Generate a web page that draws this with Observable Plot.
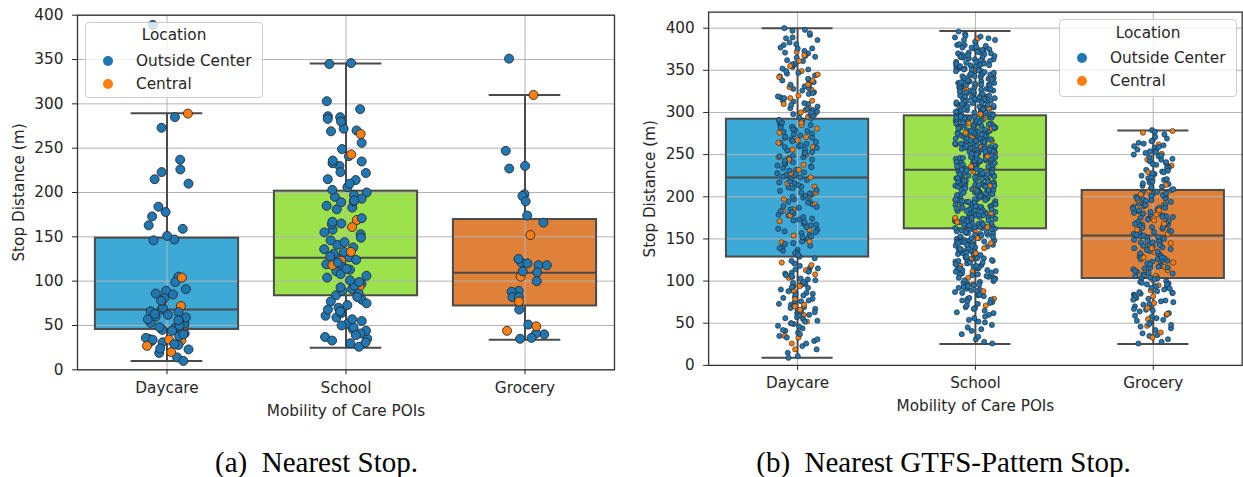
<!DOCTYPE html>
<html>
<head>
<meta charset="utf-8">
<script src="https://cdn.jsdelivr.net/npm/d3@7"></script>
<script src="https://cdn.jsdelivr.net/npm/@observablehq/plot@0.6"></script>
<style>
html, body { margin: 0; padding: 0; background: #fff; width: 1243px; height: 477px; overflow: hidden; }
#wrap { position: relative; width: 1243px; height: 477px; overflow: hidden; }
.panel { position: absolute; top: 0; }
.panel svg { overflow: visible; }
.legend { position: absolute; box-sizing: border-box; background: rgba(255,255,255,0.8); border: 1px solid #cccccc; border-radius: 4px; font-family: "DejaVu Sans", sans-serif; font-size: 15.3px; color: #262626; }
.legend .lt { position: absolute; left: 0; right: 0; text-align: center; line-height: 18px; }
.legend .mk { position: absolute; width: 10px; height: 10px; border-radius: 50%; }
.legend .li { position: absolute; line-height: 18px; white-space: nowrap; }
.caption { position: absolute; top: 446px; transform: translateX(-50%); font-family: "Liberation Serif", "Times New Roman", serif; font-size: 29px; line-height: 32px; color: #000; white-space: pre; }
</style>
</head>
<body>
<div id="wrap">
  <div id="pa" class="panel" style="left:0px"></div>
  <div id="pb" class="panel" style="left:630px"></div>
  <div id="lega" class="legend" style="left:85px;top:22px;width:178px;height:76px"></div>
  <div id="legb" class="legend" style="left:1059px;top:19px;width:178px;height:78px"></div>
  <div id="capa" class="caption" style="left:316.5px"></div>
  <div id="capb" class="caption" style="left:943.5px"></div>
</div>
<script>
// ---------- categories, labels, ticks ----------
const cats = ["Daycare", "School", "Grocery"];
const catIdx = [0, 1, 2];
const locations = ["Outside Center", "Central"];
const yTicks = [0, 50, 100, 150, 200, 250, 300, 350, 400];
const xLabel = "Mobility of Care POIs";
const yLabel = "Stop Distance (m)";
const legendTitle = "Location";
const captionA = "(a)  Nearest Stop.";
const captionB = "(b)  Nearest GTFS-Pattern Stop.";

// ---------- panel (a): box summaries ----------
const aWhiskerLo = [10, 25, 34];
const aQ1 = [45.5, 83.5, 72];
const aMedian = [68, 126.5, 109.5];
const aQ3 = [148.5, 201.5, 169.5];
const aWhiskerHi = [289.5, 345.5, 310];

// ---------- panel (a): points ----------
const aDaycareOut = [389, 285, 273, 237, 226, 223, 215, 210, 184, 178, 173, 163, 159, 151, 147, 146, 105, 99, 91, 89, 86, 85, 81, 78, 70, 68, 66, 65, 63, 62, 60, 59, 57, 56, 55, 53, 52, 50, 48, 47, 46, 45, 44, 41, 40, 38, 36, 35, 34, 32, 31, 29, 28, 24, 23, 19, 14, 10];
const aDaycareCen = [289, 104, 78, 72, 50, 34, 33, 27, 20];
const aSchoolOut = [346, 345, 303, 294, 286, 285, 283, 280, 272, 270, 269, 256, 249, 241, 236, 235, 233, 230, 223, 222, 215, 214, 210, 206, 203, 200, 197, 195, 193, 191, 190, 189, 185, 183, 181, 171, 167, 165, 164, 158, 155, 153, 149, 146, 144, 141, 138, 136, 133, 131, 128, 127, 125, 124, 121, 119, 116, 114, 113, 111, 108, 106, 104, 101, 99, 97, 95, 93, 91, 89, 86, 84, 82, 79, 77, 75, 73, 70, 68, 66, 64, 61, 59, 57, 55, 52, 50, 48, 46, 44, 41, 39, 37, 35, 33, 31, 30, 26];
const aSchoolCen = [266, 243, 169, 161, 133, 123, 118, 94];
const aGroceryOut = [351, 247, 230, 227, 198, 196, 190, 174, 166, 125, 121, 120, 118, 118, 111, 110, 100, 89, 88, 82, 82, 68, 51, 41, 40, 36, 35];
const aGroceryCen = [310, 152, 105, 77, 49, 44];

// ---------- panel (b): box summaries ----------
const bWhiskerLo = [9, 25.5, 25.5];
const bQ1 = [128.5, 162, 103];
const bMedian = [223, 232, 154];
const bQ3 = [292, 296, 207.5];
const bWhiskerHi = [400, 396.5, 278.5];

// ---------- panel (b): points ----------
const bDaycareOut = [400, 398, 397, 394, 392, 389, 388, 386, 383, 381, 380, 377, 376, 376, 373, 371, 370, 367, 366, 365, 362, 361, 358, 357, 357, 354, 352, 351, 349, 347, 346, 344, 343, 340, 339, 338, 336, 333, 333, 331, 329, 328, 326, 324, 323, 322, 319, 318, 317, 314, 313, 311, 310, 309, 307, 305, 304, 303, 301, 300, 298, 297, 296, 294, 293, 291, 290, 290, 288, 287, 285, 284, 283, 282, 280, 279, 278, 277, 275, 274, 273, 271, 270, 270, 268, 266, 265, 264, 263, 261, 260, 259, 258, 256, 255, 253, 252, 251, 249, 248, 247, 246, 244, 243, 241, 240, 239, 237, 236, 235, 234, 232, 231, 229, 228, 227, 226, 224, 223, 221, 220, 218, 217, 216, 214, 212, 211, 210, 208, 207, 205, 204, 203, 201, 200, 199, 197, 195, 194, 193, 191, 189, 188, 187, 185, 183, 182, 180, 179, 178, 176, 174, 173, 172, 170, 168, 167, 166, 164, 162, 161, 159, 158, 157, 155, 153, 152, 150, 149, 147, 145, 144, 142, 141, 139, 137, 136, 134, 133, 131, 129, 127, 124, 121, 118, 116, 115, 114, 112, 111, 110, 109, 107, 106, 105, 103, 102, 101, 99, 98, 97, 96, 94, 93, 92, 90, 89, 88, 86, 85, 84, 83, 81, 80, 79, 77, 76, 75, 73, 72, 71, 69, 68, 67, 66, 64, 63, 62, 60, 59, 57, 56, 55, 53, 52, 50, 49, 47, 46, 44, 42, 41, 39, 37, 35, 33, 31, 29, 26, 23, 19, 15, 11, 9];
const bDaycareCen = [372, 368, 361, 355, 349, 345, 342, 338, 333, 330, 327, 320, 317, 314, 310, 306, 303, 300, 298, 295, 291, 288, 285, 281, 276, 271, 267, 264, 259, 256, 250, 247, 244, 238, 232, 228, 223, 216, 212, 205, 202, 197, 191, 185, 183, 178, 171, 165, 161, 154, 147, 146, 122, 119, 113, 108, 104, 96, 94, 88, 79, 72, 70, 66, 60, 52, 50, 35, 33, 26, 19];
const bSchoolOut = [396, 393, 391, 390,
 389, 388, 386, 386, 384, 383, 381, 380, 380,
 379, 378, 377, 377, 376, 375, 374, 374, 373, 372, 371, 371, 370, 370,
 369, 369, 368, 367, 367, 366, 365, 365, 364, 363, 363, 362, 361, 360, 360, 366,
 359, 358, 358, 357, 356, 356, 355, 355, 354, 353, 352, 352, 351, 351, 350, 357, 354,
 349, 349, 348, 347, 346, 346, 345, 345, 344, 343, 343, 342, 341, 341, 340, 347, 344,
 339, 339, 338, 337, 337, 336, 335, 335, 334, 334, 333, 332, 332, 331, 330, 330, 336, 333,
 329, 328, 328, 327, 327, 326, 326, 325, 324, 324, 323, 323, 322, 321, 321, 320, 320, 325, 328,
 319, 319, 318, 317, 317, 316, 316, 315, 315, 314, 313, 313, 312, 312, 311, 310, 310, 318, 314, 316,
 309, 309, 308, 308, 307, 306, 306, 305, 305, 304, 304, 303, 302, 302, 301, 301, 300, 300, 307, 303, 305,
 299, 299, 298, 298, 297, 297, 296, 296, 295, 295, 294, 294, 293, 293, 292, 292, 291, 291, 290, 290, 298, 296, 294,
 289, 289, 288, 288, 287, 287, 286, 286, 285, 285, 284, 284, 283, 283, 282, 282, 281, 281, 280, 280, 288, 286, 284, 282,
 279, 279, 278, 278, 277, 277, 276, 276, 275, 275, 274, 274, 273, 273, 272, 272, 271, 271, 270, 270, 278, 276, 273, 271,
 269, 269, 268, 268, 267, 266, 266, 265, 265, 264, 264, 263, 263, 262, 262, 261, 261, 260, 260, 268, 267, 265, 263, 261,
 259, 259, 258, 258, 257, 257, 256, 255, 255, 254, 254, 253, 253, 252, 252, 251, 250, 250, 258, 256, 254, 252, 251, 257,
 249, 249, 248, 247, 247, 246, 246, 245, 245, 245, 244, 243, 243, 242, 242, 241, 241, 240, 240, 248, 246, 244, 243, 241,
 239, 239, 238, 238, 237, 236, 236, 236, 235, 234, 234, 233, 233, 232, 232, 231, 231, 230, 230, 238, 235, 237, 233, 232,
 229, 228, 228, 227, 227, 226, 226, 225, 225, 224, 224, 224, 223, 222, 222, 221, 221, 220, 220, 229, 227, 225, 223,
 219, 219, 218, 217, 217, 216, 216, 215, 215, 214, 214, 213, 213, 212, 212, 211, 211, 210, 210, 218, 216, 214, 213,
 209, 209, 208, 208, 207, 207, 206, 205, 205, 204, 204, 203, 203, 202, 201, 201, 200, 200, 208, 206, 203, 207,
 199, 199, 198, 197, 197, 196, 196, 195, 195, 194, 193, 193, 192, 192, 191, 190, 190, 198, 196, 194, 191, 197,
 189, 189, 188, 187, 187, 186, 185, 185, 184, 184, 183, 182, 182, 181, 180, 180, 188, 186, 183, 181, 187,
 179, 178, 178, 177, 176, 176, 175, 175, 174, 173, 173, 172, 171, 171, 170, 178, 176, 174, 172, 170,
 169, 169, 168, 167, 166, 166, 165, 164, 164, 163, 162, 162, 161, 160, 168, 165, 163, 161, 167,
 159, 158, 158, 157, 156, 155, 155, 154, 153, 152, 152, 151, 150, 158, 156, 154, 151, 157,
 149, 148, 147, 147, 146, 145, 144, 143, 143, 142, 141, 140, 148, 145, 142, 146,
 139, 138, 137, 136, 136, 135, 134, 133, 132, 131, 130, 138, 135, 132, 137,
 129, 128, 127, 126, 125, 124, 124, 123, 122, 121, 120, 127, 125, 122,
 119, 118, 117, 116, 115, 114, 113, 112, 111, 110, 118, 115, 113,
 109, 108, 107, 105, 104, 103, 102, 101, 100, 106, 104, 108,
 99, 98, 96, 95, 94, 93, 91, 90, 97, 92,
 89, 87, 86, 85, 83, 82, 80, 88, 84,
 79, 77, 76, 74, 73, 71, 78, 75,
 68, 67, 65, 63, 62, 60, 69,
 58, 56, 54, 52, 51,
 48, 45, 43, 41,
 37, 34, 31,
 28, 26];
const bSchoolCen = [388, 374, 359, 351, 342, 333, 327, 318, 310, 305, 298, 292, 287, 281, 276, 270, 266, 259, 252, 248, 241, 236, 230, 224, 219, 213, 208, 201, 196, 190, 186, 181, 175, 170, 164, 158, 151, 145, 139, 133, 126, 118, 111, 104, 96, 88, 79, 71];
const bGroceryOut = [279, 277, 274, 271,
 269, 267, 266, 264, 263, 261, 260,
 259, 258, 256, 255, 254, 253, 252, 250,
 249, 248, 247, 245, 244, 242, 241, 240,
 239, 238, 236, 235, 234, 232, 231, 230,
 229, 228, 227, 226, 225, 223, 222, 221, 220,
 219, 218, 217, 216, 215, 213, 212, 211, 210,
 209, 208, 207, 206, 205, 204, 202, 201, 200, 203,
 199, 198, 197, 196, 195, 194, 193, 192, 191, 190, 198,
 189, 188, 187, 186, 185, 183, 182, 181, 180, 187, 184,
 179, 178, 177, 176, 175, 174, 173, 171, 170, 176,
 169, 168, 167, 166, 165, 164, 163, 162, 160, 167, 164,
 159, 158, 157, 156, 155, 154, 153, 152, 151, 150, 157, 154,
 149, 148, 147, 146, 144, 143, 142, 141, 140, 146, 143,
 139, 138, 137, 136, 135, 133, 132, 131, 130, 136,
 129, 128, 127, 126, 125, 124, 123, 121, 120, 126,
 119, 118, 117, 116, 115, 114, 112, 111, 110, 116,
 109, 108, 107, 105, 104, 103, 102, 100, 106, 103,
 99, 98, 97, 96, 94, 93, 92, 91, 90, 96,
 88, 87, 86, 85, 84, 83, 81, 80, 86,
 79, 78, 77, 76, 75, 73, 72, 70,
 69, 67, 66, 65, 64, 62, 60,
 59, 58, 56, 54, 53, 51,
 49, 48, 46, 44, 42,
 38, 36, 35, 31,
 28, 26];
const bGroceryCen = [278, 276, 262, 251, 244, 237, 229, 221, 214, 207, 203, 196, 190, 184, 179, 172, 168, 161, 156, 149, 145, 139, 134, 128, 122, 117, 113, 106, 101, 95, 89, 82, 74, 68, 61, 55, 47, 39, 33];

// ---------- colours ----------
const boxColors = ["#3ca9d7", "#9ce24c", "#e08139"];
const pointColors = {"Outside Center": "#1f77b4", "Central": "#ff7f0e"};
const edgeColor = "#4b4b4b";
const gridColor = "#b3b3b3";
const textColor = "#262626";

// ---------- helpers ----------
// deterministic, evenly spread jitter in [0, 1) from the point index
function hash01(k) {
  let h = Math.imul((k + 1) ^ 0x9e3779b9, 2654435761) >>> 0;
  h = (h ^ (h >>> 15)) >>> 0; h = Math.imul(h, 2246822519) >>> 0;
  h = (h ^ (h >>> 13)) >>> 0; h = Math.imul(h, 3266489917) >>> 0;
  h = (h ^ (h >>> 16)) >>> 0;
  return h / 4294967296;
}
function buildStats(lo, q1, med, q3, hi) {
  return catIdx.map(i => ({i, lo: lo[i], q1: q1[i], med: med[i], q3: q3[i], hi: hi[i], fill: boxColors[i]}));
}
function buildPoints(lists) {
  const rows = [];
  lists.forEach(([out, cen], i) => {
    out.forEach(v => rows.push({i, v, loc: locations[0]}));
    cen.forEach(v => rows.push({i, v, loc: locations[1]}));
  });
  rows.forEach((d, k) => { d.j = hash01(k) * 2 - 1; d.ord = hash01(k + 50021); });
  rows.sort((a, b) => a.ord - b.ord);
  return rows;
}

function panel(o) {
  const half = 0.4, cap = 0.2;
  const line = {stroke: edgeColor, strokeWidth: 2};
  return Plot.plot({
    width: o.width, height: o.height,
    marginLeft: o.marginLeft, marginRight: o.marginRight, marginTop: o.marginTop, marginBottom: o.marginBottom,
    style: {fontFamily: "'DejaVu Sans', sans-serif", fontSize: "15.3px", color: textColor, background: "transparent", overflow: "visible"},
    x: {domain: [-0.5, 2.5]},
    y: {domain: [0, o.yMax]},
    color: {type: "identity"},
    marks: [
      Plot.rect(o.stats, {x1: d => d.i - half, x2: d => d.i + half, y1: "q1", y2: "q3", fill: "fill"}),
      Plot.gridY(yTicks, {stroke: gridColor, strokeOpacity: 1, strokeWidth: 1}),
      Plot.gridX(catIdx, {stroke: gridColor, strokeOpacity: 1, strokeWidth: 1}),
      Plot.rect(o.stats, {x1: d => d.i - half, x2: d => d.i + half, y1: "q1", y2: "q3", fill: "none", ...line}),
      Plot.ruleY(o.stats, {x1: d => d.i - half, x2: d => d.i + half, y: "med", ...line}),
      Plot.ruleX(o.stats, {x: "i", y1: "q3", y2: "hi", ...line}),
      Plot.ruleX(o.stats, {x: "i", y1: "lo", y2: "q1", ...line}),
      Plot.ruleY(o.stats, {x1: d => d.i - cap, x2: d => d.i + cap, y: "hi", ...line}),
      Plot.ruleY(o.stats, {x1: d => d.i - cap, x2: d => d.i + cap, y: "lo", ...line}),
      Plot.dot(o.points, {x: d => d.i + d.j * o.jitter, y: "v", r: o.r, fill: d => pointColors[d.loc], stroke: "#2a2a2a", strokeWidth: o.sw}),
      Plot.frame({stroke: "#333333", strokeWidth: 1.3}),
      Plot.axisX(catIdx, {tickFormat: i => cats[i], tickSize: 5, tickPadding: 7, label: xLabel, labelAnchor: "center", labelOffset: 46, labelArrow: "none"}),
      Plot.axisY(yTicks, {tickSize: 5, tickPadding: 9, label: yLabel, labelAnchor: "center", labelOffset: o.yLabelOffset, labelArrow: "none"})
    ]
  });
}

const statsA = buildStats(aWhiskerLo, aQ1, aMedian, aQ3, aWhiskerHi);
const statsB = buildStats(bWhiskerLo, bQ1, bMedian, bQ3, bWhiskerHi);
const pointsA = buildPoints([[aDaycareOut, aDaycareCen], [aSchoolOut, aSchoolCen], [aGroceryOut, aGroceryCen]]);
const pointsB = buildPoints([[bDaycareOut, bDaycareCen], [bSchoolOut, bSchoolCen], [bGroceryOut, bGroceryCen]]);

document.getElementById("pa").appendChild(panel({
  stats: statsA, points: pointsA, yMax: 400,
  width: 620, height: 430, marginLeft: 77, marginRight: 6, marginTop: 14.7, marginBottom: 60.7,
  r: 4.5, sw: 0.9, jitter: 0.123, yLabelOffset: 64
}));
document.getElementById("pb").appendChild(panel({
  stats: statsB, points: pointsB, yMax: 419,
  width: 616, height: 430, marginLeft: 78.5, marginRight: 1.3, marginTop: 11.7, marginBottom: 63.3,
  r: 2.6, sw: 0.65, jitter: 0.115, yLabelOffset: 65
}));

function legend(el, titleTop, row1, row2) {
  const t = document.createElement("div");
  t.className = "lt"; t.style.top = titleTop + "px"; t.textContent = legendTitle;
  el.appendChild(t);
  [row1, row2].forEach((cy, k) => {
    const m = document.createElement("span");
    m.className = "mk"; m.style.left = "17px"; m.style.top = (cy - 5) + "px";
    m.style.background = pointColors[locations[k]];
    el.appendChild(m);
    const l = document.createElement("div");
    l.className = "li"; l.style.left = "50px"; l.style.top = (cy - 9) + "px";
    l.textContent = locations[k];
    el.appendChild(l);
  });
}
legend(document.getElementById("lega"), 3, 38, 61);
legend(document.getElementById("legb"), 4, 38, 61);

document.getElementById("capa").textContent = captionA;
document.getElementById("capb").textContent = captionB;
</script>
</body>
</html>
